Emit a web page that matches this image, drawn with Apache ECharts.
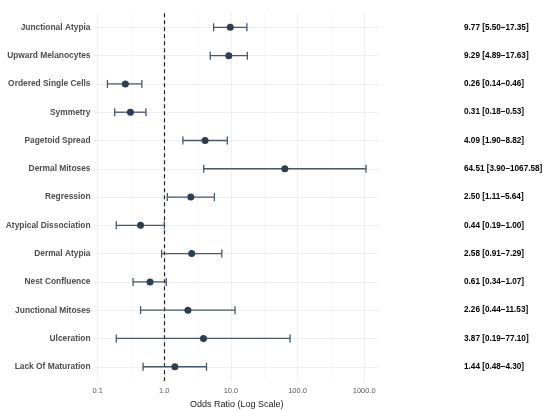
<!DOCTYPE html>
<html>
<head>
<meta charset="utf-8">
<script src="https://cdn.jsdelivr.net/npm/echarts@6/dist/echarts.min.js"></script>
<style>
  html, body { margin: 0; padding: 0; background: #fff; }
  #chart { width: 550px; height: 411px; }
</style>
</head>
<body>
<div id="chart"></div>
<script>
// 变量名 / 数据
const labels = [
  "Junctional Atypia", "Upward Melanocytes", "Ordered Single Cells", "Symmetry",
  "Pagetoid Spread", "Dermal Mitoses", "Regression", "Atypical Dissociation",
  "Dermal Atypia", "Nest Confluence", "Junctional Mitoses", "Ulceration",
  "Lack Of Maturation"
];
const oddsRatio = [9.77, 9.29, 0.26, 0.31, 4.09, 64.51, 2.50, 0.44, 2.58, 0.61, 2.26, 3.87, 1.44];
const ciLower = [5.50, 4.89, 0.14, 0.18, 1.90, 3.90, 1.11, 0.19, 0.91, 0.34, 0.44, 0.19, 0.48];
const ciUpper = [17.35, 17.63, 0.46, 0.53, 8.82, 1067.58, 5.64, 1.00, 7.29, 1.07, 11.53, 77.10, 4.30];
const majorTicks = [0.1, 1, 10, 100, 1000];
const minorTicks = [0.316, 3.16, 31.6, 316];

const font = "Liberation Sans, Arial, sans-serif";

// 右侧文字: OR [lower–upper]
const ciText = labels.map((_, i) =>
  oddsRatio[i].toFixed(2) + " [" + ciLower[i].toFixed(2) + "\u2013" + ciUpper[i].toFixed(2) + "]"
);

// 对数轴范围, 左右各扩展 5%
const lgMin = Math.log10(Math.min(...ciLower));
const lgMax = Math.log10(Math.max(...ciUpper));
const pad = (lgMax - lgMin) * 0.05;

var myChart = echarts.init(document.getElementById("chart"));

const gridLine = { color: "#ebebeb", width: 0.8, type: "solid" };
const minorLine = { color: "#f3f3f3", width: 0.6, type: "solid" };

var option = {
  animation: false,
  textStyle: { fontFamily: font },
  grid: { left: 94.5, right: 171, top: 13.2, height: 367.7, containLabel: false, outerBoundsMode: "none" },
  xAxis: {
    type: "log",
    logBase: 10,
    min: Math.pow(10, lgMin - pad),
    max: Math.pow(10, lgMax + pad),
    name: "Odds Ratio (Log Scale)",
    nameLocation: "middle",
    nameGap: 17,
    nameTextStyle: { color: "#1a1a1a", fontSize: 9, fontFamily: font },
    axisLine: { show: false },
    axisTick: { show: false },
    splitLine: { show: false },
    axisLabel: {
      color: "#5a5a5a",
      fontSize: 7.5,
      margin: 6,
      formatter: (v) => {
        const l = Math.log10(v);
        return Math.abs(l - Math.round(l)) < 1e-6 ? v.toFixed(1) : "";
      },
    },
  },
  yAxis: [
    {
      type: "category",
      data: labels,
      inverse: true,
      axisLine: { show: false },
      axisTick: { show: false },
      splitLine: { show: false },
      axisLabel: { color: "#4d4d4d", fontWeight: "bold", fontSize: 8.4, margin: 4 },
    },
    {
      type: "category",
      data: ciText,
      inverse: true,
      position: "right",
      axisLine: { show: false },
      axisTick: { show: false },
      splitLine: { show: false },
      axisLabel: { color: "#000", fontWeight: "bold", fontSize: 8.2, margin: 85, align: "left" },
    },
  ],
  series: [
    // 网格线
    {
      type: "scatter",
      data: [],
      silent: true,
      z: 1,
      markLine: {
        z: 1,
        silent: true,
        symbol: "none",
        label: { show: false },
        data: [
          ...majorTicks.map((t) => ({ xAxis: t, lineStyle: gridLine })),
          ...minorTicks.map((t) => ({ xAxis: t, lineStyle: minorLine })),
          ...labels.map((l) => ({ yAxis: l, lineStyle: gridLine })),
        ],
      },
    },
    // 参考线 OR = 1
    {
      type: "scatter",
      data: [],
      silent: true,
      z: 2,
      markLine: {
        z: 2,
        silent: true,
        symbol: "none",
        label: { show: false },
        data: [{ xAxis: 1 }],
        lineStyle: { color: "#222", width: 1.2, type: [4, 3] },
      },
    },
    // 置信区间
    {
      type: "custom",
      z: 3,
      encode: { x: [0, 1], y: 2 },
      data: labels.map((l, i) => [ciLower[i], ciUpper[i], i]),
      renderItem: (params, api) => {
        const a = api.coord([api.value(0), api.value(2)]);
        const b = api.coord([api.value(1), api.value(2)]);
        const h = 4;
        const style = { stroke: "#475869", lineWidth: 1.3 };
        return {
          type: "group",
          children: [
            { type: "line", shape: { x1: a[0], y1: a[1], x2: b[0], y2: b[1] }, style },
            { type: "line", shape: { x1: a[0], y1: a[1] - h, x2: a[0], y2: a[1] + h }, style },
            { type: "line", shape: { x1: b[0], y1: b[1] - h, x2: b[0], y2: b[1] + h }, style },
          ],
        };
      },
    },
    // 点估计
    {
      type: "scatter",
      z: 4,
      symbolSize: 7,
      itemStyle: { color: "#2c3e50", opacity: 1 },
      data: labels.map((l, i) => [oddsRatio[i], i]),
    },
  ],
};
myChart.setOption(option);
</script>
</body>
</html>
